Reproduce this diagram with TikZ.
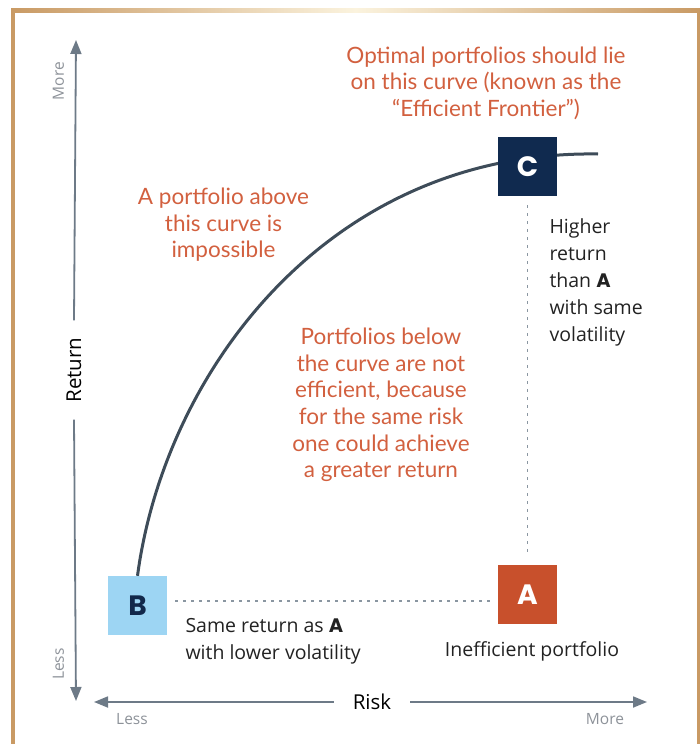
\documentclass[tikz,border=0pt]{standalone}
\usepackage{fontspec}
\usepackage{tikz}
\usetikzlibrary{arrows.meta,positioning}
\setmainfont{Open Sans}
\newfontfamily\notefont{Lato}
\newfontfamily\letterfont{Poppins}

\definecolor{frametan}{HTML}{C99A64}
\definecolor{framecream}{HTML}{FBF3DE}
\definecolor{axisgrey}{HTML}{6D7A87}
\definecolor{labelgrey}{HTML}{8D9299}
\definecolor{curveslate}{HTML}{3E4C59}
\definecolor{noteorange}{HTML}{D2603F}
\definecolor{boxA}{HTML}{C8502C}
\definecolor{boxB}{HTML}{9DD5F3}
\definecolor{boxC}{HTML}{102A4F}
\definecolor{letterB}{HTML}{12284A}
\definecolor{dotgrey}{HTML}{8A96A1}
\definecolor{textdark}{HTML}{222222}

\begin{document}
\begin{tikzpicture}[x=1pt,y=-1pt,
  axisline/.style={draw=axisgrey,line width=1.8pt,-{Triangle[length=14pt,width=11pt]}},
  ends/.style={text=labelgrey,font=\fontsize{15.5}{17}\selectfont},
  note/.style={text=noteorange,align=center,font=\notefont\fontsize{22.5}{26.6}\selectfont},
  plain/.style={text=textdark,font=\fontsize{19.5}{27}\selectfont},
  pbox/.style={minimum size=59pt,inner sep=0pt,font=\letterfont\bfseries\fontsize{28}{28}\selectfont},
  guide/.style={draw=dotgrey,line width=1.2pt,dash pattern=on 3pt off 5pt}]
\useasboundingbox (0,0) rectangle (700,744);
% frame
\fill[frametan] (11,8) rectangle (15,744);
\fill[frametan] (696.5,8) rectangle (700,744);
\shade[left color=frametan,right color=frametan,middle color=framecream] (11,8) rectangle (700,12.5);

% axes
\coordinate (ytop) at (76,40);
\coordinate (ybot) at (76,701);
\coordinate (xleft) at (94,702);
\coordinate (xright) at (647,702);
\node[rotate=90,text=black,font=\fontsize{20.5}{20}\selectfont,inner xsep=17pt] (ret) at (74,370) {Return};
\node[text=black,font=\fontsize{20.5}{20}\selectfont,inner xsep=19pt] (risk) at (372,702) {Risk};
\draw[axisline] (ret.east) -- (ytop);
\draw[axisline] (ret.west) -- (ybot);
\draw[axisline] (risk.west) -- (xleft);
\draw[axisline] (risk.east) -- (xright);
\node[ends,rotate=90] (ymore) at (58.5,81) {More};
\node[ends,rotate=90] (yless) at (58.5,664) {Less};
\node[ends] (xless) at (132,719) {Less};
\node[ends] (xmore) at (605,719) {More};

% portfolios and the frontier
\node[pbox,fill=boxB,text=letterB] (B) at (137.5,605.5) {B};
\node[pbox,fill=boxA,text=white] (A) at (527.5,594.5) {A};
\coordinate (front) at (598,154);
\draw[curveslate,line width=3pt] (B.north) .. controls (165,370) and (330,150) .. (front);
\node[pbox,fill=boxC,text=white] (C) at (527.5,166.5) {C};
\draw[guide,shorten <=8pt,shorten >=8pt] ([yshift=4.5pt]B.east) -- ([yshift=-6.5pt]A.west);
\draw[guide,shorten <=9pt,shorten >=10pt] (C.south) -- (A.north);

% notes
\node[note] (optimal) at (486,83) {Optimal portfolios should lie\\on this curve (known as the\\“Efficient Frontier”)};
\node[note] (above) at (223.5,225) {A portfolio above\\this curve is\\impossible};
\node[note] (below) at (381,405) {Portfolios below\\the curve are not\\efficient, because\\for the same risk\\one could achieve\\a greater return};
\node[plain,align=left,anchor=west] (higher) at (546,282) {Higher\\return\\than {\letterfont\bfseries A}\\with same\\volatility};
\node[plain,align=left,anchor=west] (same) at (182,641) {Same return as {\letterfont\bfseries A}\\with lower volatility};
\node[plain] (ineff) at (532,651) {Inefficient portfolio};
\end{tikzpicture}
\end{document}
